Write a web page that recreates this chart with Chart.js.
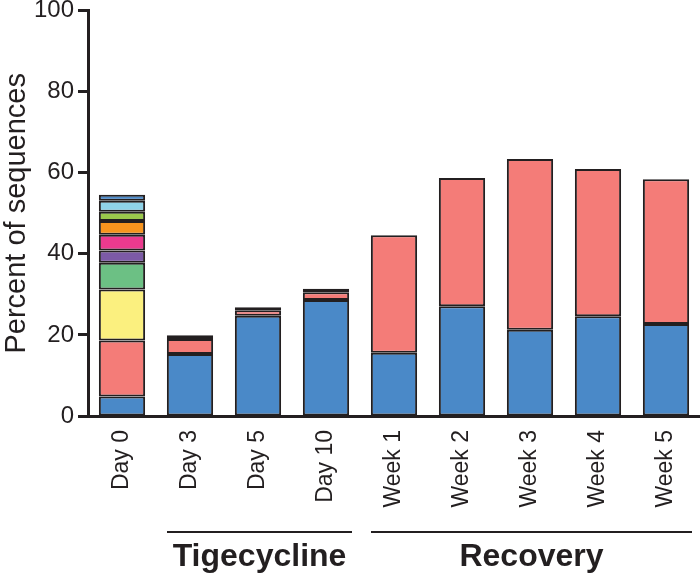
<!DOCTYPE html>
<html>
<head>
<meta charset="utf-8">
<script src="https://cdn.jsdelivr.net/npm/chart.js@4"></script>
<style>
  body { margin: 0; background: #fff; }
  #wrap { width: 700px; height: 575px; }
</style>
</head>
<body>
<div id="wrap"><canvas id="myChart" width="700" height="575"></canvas></div>
<script>
let labels = ['Day 0', 'Day 3', 'Day 5', 'Day 10', 'Week 1', 'Week 2', 'Week 3', 'Week 4', 'Week 5'];
let yTicks = [0, 20, 40, 60, 80, 100];

// stacked segments, bottom to top (null = segment not present)
let blue      = [4.8, 15.3, 24.7, 28.6, 15.6, 27.1, 21.3, 24.6, 22.7];
let red       = [13.8, 3.7, 1.4, 1.9, 29.0, 31.6, 42.1, 36.3, 35.7];
let yellow    = [12.6, null, null, null, null, null, null, null, null];
let green     = [6.6, null, null, null, null, null, null, null, null];
let purple    = [3.0, null, null, null, null, null, null, null, null];
let pink      = [3.9, null, null, null, null, null, null, null, null];
let orange    = [3.4, null, null, null, null, null, null, null, null];
let lime      = [2.3, null, null, null, null, null, null, null, null];
let lightBlue = [2.7, null, null, null, null, null, null, null, null];
let topBlue   = [1.5, 0.9, 0.7, 0.9, null, null, null, null, null];

let groups = [
    { name: 'Tigecycline', from: 1, to: 3 },
    { name: 'Recovery', from: 4, to: 8 }
];

let ink = '#231f20';
let fontFam = '"Liberation Sans", Arial, sans-serif';

function seg(data, color) {
    return {
        data: data,
        backgroundColor: color,
        borderColor: ink,
        borderWidth: 2,
        borderSkipped: false,
        barPercentage: 0.68,
        categoryPercentage: 1
    };
}

// group lines + labels under the x axis
let groupPlugin = {
    id: 'groups',
    afterDraw(chart) {
        let ctx = chart.ctx;
        let x = chart.scales.x;
        ctx.save();
        ctx.strokeStyle = ink;
        ctx.lineWidth = 2;
        ctx.fillStyle = ink;
        ctx.font = 'bold 32px ' + fontFam;
        ctx.textAlign = 'center';
        ctx.textBaseline = 'alphabetic';
        groups.forEach(function(g) {
            let x0 = x.getPixelForValue(g.from) - 23;
            let x1 = x.getPixelForValue(g.to) + 26;
            ctx.beginPath();
            ctx.moveTo(x0, 532);
            ctx.lineTo(x1, 532);
            ctx.stroke();
            ctx.fillText(g.name, (x0 + x1) / 2, 566);
        });
        ctx.restore();
    }
};

let ctx = document.getElementById('myChart').getContext('2d');
let myChart = new Chart(ctx, {
    type: 'bar',
    data: {
        labels: labels,
        datasets: [
            seg(blue, '#4a89c8'),
            seg(red, '#f47c78'),
            seg(yellow, '#fbf07f'),
            seg(green, '#6cc084'),
            seg(purple, '#7c5aa6'),
            seg(pink, '#ec3a8e'),
            seg(orange, '#f7941e'),
            seg(lime, '#9bc84c'),
            seg(lightBlue, '#8fd3e8'),
            seg(topBlue, '#4a89c8')
        ]
    },
    options: {
        responsive: false,
        animation: false,
        layout: { padding: { top: 0, right: 0, bottom: 59, left: 0 } },
        plugins: {
            legend: { display: false },
            tooltip: { enabled: false }
        },
        scales: {
            x: {
                stacked: true,
                grid: { display: false },
                border: { color: ink, width: 3 },
                afterFit: function(axis) { axis.height = 100; },
                ticks: {
                    color: ink,
                    font: { family: fontFam, size: 23 },
                    minRotation: 90,
                    maxRotation: 90,
                    padding: 6
                }
            },
            y: {
                stacked: true,
                min: 0,
                max: 100,
                afterFit: function(axis) { axis.width = 88; },
                afterBuildTicks: function(axis) {
                    axis.ticks = yTicks.map(function(v) { return { value: v }; });
                },
                grid: {
                    drawOnChartArea: false,
                    drawTicks: true,
                    tickLength: 10,
                    tickWidth: 3,
                    tickColor: ink
                },
                border: { color: ink, width: 3 },
                ticks: {
                    color: ink,
                    font: { family: fontFam, size: 24, lineHeight: 0.55 },
                    padding: 4
                },
                title: {
                    display: true,
                    text: 'Percent of sequences',
                    color: ink,
                    font: { family: fontFam, size: 29 },
                    padding: { top: 0, bottom: 0 }
                }
            }
        }
    },
    plugins: [groupPlugin]
});
</script>
</body>
</html>
